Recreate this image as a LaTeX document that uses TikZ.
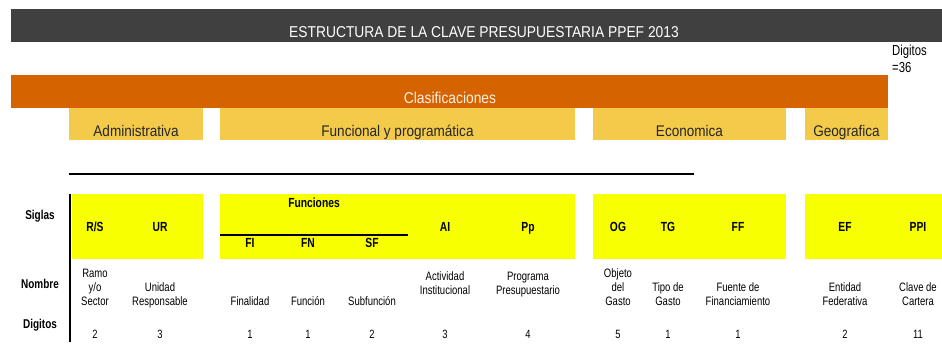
\documentclass[tikz,border=0pt]{standalone}
\usepackage{fontspec}
\setmainfont{Liberation Sans}
\newfontfamily\estrecha{Liberation Sans}[FakeStretch=0.78]
\newfontfamily\media{Liberation Sans}[FakeStretch=0.88]
\usepackage{xcolor}

\definecolor{gris}{HTML}{404040}
\definecolor{naranja}{HTML}{D56300}
\definecolor{ocre}{HTML}{F4CA4A}
\definecolor{amarillo}{HTML}{F8FF00}

\begin{document}
\begin{tikzpicture}[x=1pt,y=-1pt,
  titulo/.style={text=white,font=\media\fontsize{15.7}{17}\selectfont,inner sep=0pt,anchor=base},
  grupo/.style={text=black!85,font=\media\fontsize{15.4}{17}\selectfont,inner sep=0pt,anchor=base},
  fila/.style={font=\estrecha\bfseries\fontsize{12.8}{14}\selectfont,inner sep=0pt,anchor=base},
  sigla/.style={font=\estrecha\bfseries\fontsize{13.2}{14}\selectfont,inner sep=0pt,anchor=base},
  nombre/.style={font=\estrecha\fontsize{12.2}{14}\selectfont,align=center,inner sep=0pt,text depth=3pt,anchor=south},
  digito/.style={font=\estrecha\fontsize{12}{14}\selectfont,inner sep=0pt,anchor=base}]
\useasboundingbox (0,0) rectangle (942,362);

% franjas de encabezado
\fill[gris] (11,9) rectangle (942,42);
\node[titulo] (titulo) at (484,37) {ESTRUCTURA DE LA CLAVE PRESUPUESTARIA PPEF 2013};
\node[align=left,inner sep=0pt,anchor=base west,font=\estrecha\fontsize{14.5}{17}\selectfont] (total) at (892,72) {Digitos\\=36};
\fill[naranja] (11,75) rectangle (888,108);
\node[titulo,text=white!90!orange] (clasif) at (450,103) {Clasificaciones};

% clasificaciones
\foreach \a/\b/\t/\n in {69/203/Administrativa/adm,220/575/Funcional y programática/fun,
                         593/786/Economica/eco,805/888/Geografica/geo}{
  \fill[ocre] (\a,108) rectangle (\b,140);
  \node[grupo] (\n) at ({(\a+\b)/2},136) {\t};
}

% lineas
\draw[line width=2.5pt] (69,174) -- (694,174);
\fill[amarillo] (72,194) rectangle (203,259);
\fill[amarillo] (220,194) rectangle (575,259);
\fill[amarillo] (593,194) rectangle (786,259);
\fill[amarillo] (805,194) rectangle (942,259);
\draw[line width=2pt] (70,194) -- (70,342);
\draw[line width=1.3pt] (220,235) -- (408,235);

% filas
\node[fila] (siglas) at (40,219) {Siglas};
\node[fila] (nomb) at (40,288) {Nombre};
\node[fila] (digs) at (40,328) {Digitos};

% siglas
\node[sigla] (funciones) at (314,207) {Funciones};
\foreach \x/\s/\n in {95/{R/S}/rs,160/UR/ur,445/AI/ai,528/Pp/pp,618/OG/og,668/TG/tg,738/FF/ff,845/EF/ef,918/PPI/ppi}
  \node[sigla] (s\n) at (\x,231) {\s};
\foreach \x/\s/\n in {250/FI/fi,308/FN/fn,372/SF/sf}
  \node[sigla] (s\n) at (\x,247) {\s};

% nombres
\foreach \x/\s/\n in {95/{Ramo\\y/o\\Sector}/rs,160/Unidad\\Responsable/ur,250/Finalidad/fi,308/Función/fn,
                   372/Subfunción/sf,618/Objeto\\del\\Gasto/og,668/Tipo de\\Gasto/tg,
                   738/Fuente de\\Financiamiento/ff,845/Entidad\\Federativa/ef,918/Clave de\\Cartera/ppi}
  \node[nombre] (n\n) at (\x,309) {\s};
\foreach \x/\s/\n in {445/Actividad\\Institucional/ai,528/Programa\\Presupuestario/pp}
  \node[nombre] (n\n) at (\x,298) {\s};

% digitos
\foreach \x/\d/\n in {95/2/rs,160/3/ur,250/1/fi,308/1/fn,372/2/sf,445/3/ai,528/4/pp,618/5/og,668/1/tg,738/1/ff,845/2/ef,918/11/ppi}
  \node[digito] (d\n) at (\x,338) {\d};
\end{tikzpicture}
\end{document}
